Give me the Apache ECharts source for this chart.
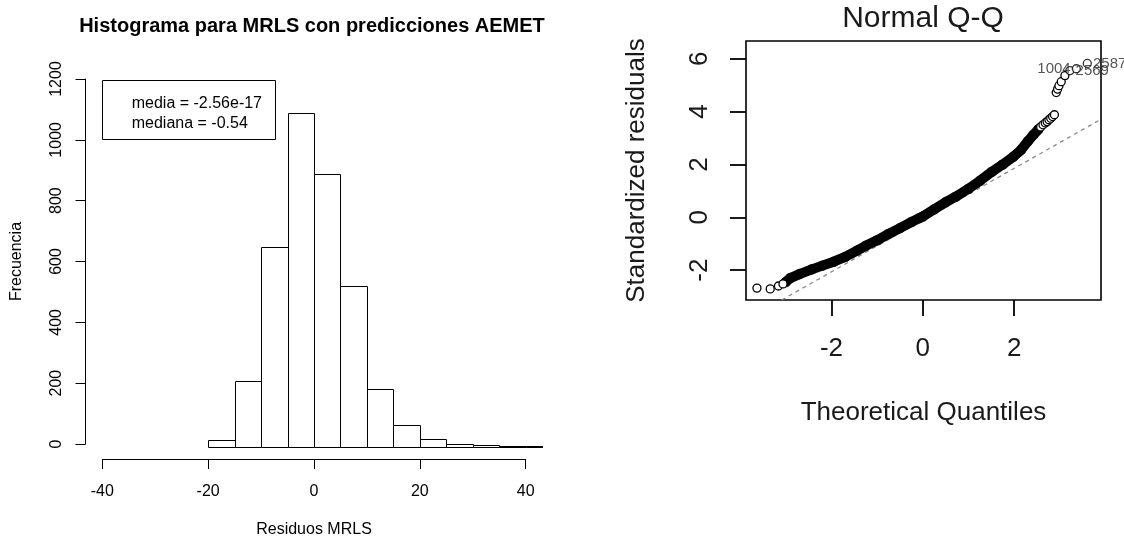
<!DOCTYPE html>
<html><head><meta charset="utf-8">
<script src="https://cdn.jsdelivr.net/npm/echarts@6/dist/echarts.min.js"></script>
<style>html,body{margin:0;padding:0;background:#fff}#c{width:1124px;height:543px}</style>
</head><body><div id="c"></div>
<script>
// ---------- Left panel: histogram ----------
const histTitle = 'Histograma para MRLS con predicciones AEMET';
const histXName = 'Residuos MRLS';
const histYName = 'Frecuencia';
const histBinEdges = [-20, -15, -10, -5, 0, 5, 10, 15, 20, 25, 30, 35, 40, 45];
const histCounts = [22, 215, 650, 1088, 890, 523, 187, 70, 25, 9, 4, 3, 3];
const histXTicks = [-40, -20, 0, 20, 40];
const histYTicks = [0, 200, 400, 600, 800, 1000, 1200];
const histLegendLines = ['media = -2.56e-17', 'mediana = -0.54'];

// ---------- Right panel: Normal Q-Q ----------
const qqTitle = 'Normal Q-Q';
const qqXName = 'Theoretical Quantiles';
const qqYName = 'Standardized residuals';
const qqXTicks = [-2, 0, 2];
const qqYTicks = [-2, 0, 2, 4, 6];
// dense band of points
const qqBandX = [-3.00, -2.90, -2.70, -2.43, -2.20, -1.95, -1.70, -1.45, -1.25, -1.00, -0.75, -0.50, -0.25, -0.07, 0.00, 0.25, 0.50, 0.72, 1.00, 1.25, 1.51, 1.75, 1.98, 2.15, 2.30, 2.42, 2.53];
const qqBandY = [-2.45, -2.30, -2.15, -1.97, -1.83, -1.68, -1.50, -1.27, -1.08, -0.87, -0.63, -0.41, -0.18, -0.03, 0.03, 0.30, 0.57, 0.78, 1.08, 1.38, 1.72, 2.00, 2.29, 2.55, 2.88, 3.12, 3.33];
// sparse points at the tails
const qqTailX = [-3.63, -3.34, -3.16, -3.06, 2.58, 2.63, 2.68, 2.72, 2.76, 2.80, 2.84, 2.88, 2.92, 2.95, 2.98, 3.03, 3.11];
const qqTailY = [-2.68, -2.71, -2.60, -2.52, 3.42, 3.50, 3.57, 3.62, 3.69, 3.75, 3.81, 3.88, 4.72, 4.85, 4.98, 5.13, 5.36];
// the three labelled largest residuals
const qqTopX = [3.22, 3.36, 3.60];
const qqTopY = [5.55, 5.62, 5.82];
const qqTopLabels = ['2569', '1004', '2587'];
const qqLineX = [-3.09, 3.90];
const qqLineY = [-3.13, 3.71];

const FONT = "'Liberation Sans', Arial, Helvetica, sans-serif";
const chart = echarts.init(document.getElementById('c'), null, { renderer: 'canvas' });

const histData = histCounts.map((c, i) => [histBinEdges[i], histBinEdges[i + 1], c]);
const bandData = qqBandX.map((x, i) => [x, qqBandY[i]]);
const tailData = qqTailX.map((x, i) => [x, qqTailY[i]]);
const lineData = qqLineX.map((x, i) => [x, qqLineY[i]]);
const labelPos = { '1004': 'left', '2569': 'right', '2587': 'right' };
const topData = qqTopX.map((x, i) => ({ value: [x, qqTopY[i]], name: qqTopLabels[i], label: { position: labelPos[qqTopLabels[i]] } }));

chart.setOption({
  animation: false,
  backgroundColor: '#fff',
  textStyle: { fontFamily: FONT },
  grid: [
    { left: 85.5, top: 64.2, width: 457, height: 397.2, show: false },
    { left: 102.3, top: 79, width: 423.4, height: 367.7, show: false },
    { left: 746, top: 41, width: 355, height: 259, show: true, borderColor: '#000', borderWidth: 1.6, backgroundColor: 'transparent' }
  ],
  xAxis: [
    { gridIndex: 0, type: 'value', min: -43.2, max: 43.2, show: false },
    { gridIndex: 1, type: 'value', min: histXTicks[0], max: histXTicks[histXTicks.length - 1], interval: 20,
      position: 'bottom', offset: 15,
      axisLine: { show: true, onZero: false, lineStyle: { color: '#000', width: 1 } },
      axisTick: { show: true, inside: false, length: 10, lineStyle: { color: '#000', width: 1 } },
      axisLabel: { color: '#000', fontSize: 16, margin: 25, fontFamily: FONT, formatter: v => String(v) },
      splitLine: { show: false },
      name: histXName, nameLocation: 'middle', nameGap: 63,
      nameTextStyle: { color: '#000', fontSize: 16, fontFamily: FONT } },
    { gridIndex: 2, type: 'value', min: -3.87, max: 3.90, position: 'bottom',
      axisLine: { show: false, onZero: false },
      axisTick: { show: true, inside: false, length: 16, customValues: qqXTicks, lineStyle: { color: '#000', width: 1.8 } },
      axisLabel: { color: '#1a1a1a', fontSize: 26, margin: 36, customValues: qqXTicks, fontFamily: FONT, formatter: v => String(v) },
      splitLine: { show: false },
      name: qqXName, nameLocation: 'middle', nameGap: 100,
      nameTextStyle: { color: '#1a1a1a', fontSize: 26, fontFamily: FONT } }
  ],
  yAxis: [
    { gridIndex: 0, type: 'value', min: -48, max: 1248, show: false },
    { gridIndex: 1, type: 'value', min: histYTicks[0], max: histYTicks[histYTicks.length - 1], interval: 200,
      position: 'left', offset: 16.8,
      axisLine: { show: true, onZero: false, lineStyle: { color: '#000', width: 1 } },
      axisTick: { show: true, inside: false, length: 10, lineStyle: { color: '#000', width: 1 } },
      axisLabel: { color: '#000', fontSize: 16, margin: 21, rotate: 90, fontFamily: FONT, formatter: v => String(v) },
      splitLine: { show: false },
      name: histYName, nameLocation: 'middle', nameGap: 61, nameRotate: 90,
      nameTextStyle: { color: '#000', fontSize: 16, fontFamily: FONT } },
    { gridIndex: 2, type: 'value', min: -3.13, max: 6.67, position: 'left',
      axisLine: { show: false, onZero: false },
      axisTick: { show: true, inside: false, length: 16, customValues: qqYTicks, lineStyle: { color: '#000', width: 1.8 } },
      axisLabel: { color: '#1a1a1a', fontSize: 26, margin: 33, rotate: 90, customValues: qqYTicks, fontFamily: FONT, formatter: v => String(v) },
      splitLine: { show: false },
      name: qqYName, nameLocation: 'middle', nameGap: 96, nameRotate: 90,
      nameTextStyle: { color: '#1a1a1a', fontSize: 26, fontFamily: FONT } }
  ],
  graphic: [
    { type: 'text', x: 312, y: 26, style: { text: histTitle, textAlign: 'center', textVerticalAlign: 'middle', fill: '#000', font: 'bold 20px ' + FONT } },
    { type: 'text', x: 923, y: 19, style: { text: qqTitle, textAlign: 'center', textVerticalAlign: 'middle', fill: '#1a1a1a', font: '30px ' + FONT } },
    { type: 'rect', shape: { x: 102.5, y: 80.5, width: 173, height: 59 }, style: { fill: '#fff', stroke: '#000', lineWidth: 1 }, z: 10 },
    { type: 'text', x: 131.7, y: 103.3, style: { text: histLegendLines[0], textVerticalAlign: 'middle', fill: '#000', font: '16px ' + FONT }, z: 11 },
    { type: 'text', x: 131.7, y: 123.3, style: { text: histLegendLines[1], textVerticalAlign: 'middle', fill: '#000', font: '16px ' + FONT }, z: 11 }
  ],
  series: [
    {
      type: 'custom', xAxisIndex: 0, yAxisIndex: 0, clip: true,
      data: histData,
      renderItem: function (params, api) {
        const p0 = api.coord([api.value(0), api.value(2)]);
        const p1 = api.coord([api.value(1), 0]);
        return {
          type: 'rect',
          shape: { x: Math.round(p0[0]) + 0.5, y: Math.round(p0[1]) + 0.5, width: Math.round(p1[0]) - Math.round(p0[0]), height: Math.round(p1[1]) - Math.round(p0[1]) },
          style: { fill: '#fff', stroke: '#000', lineWidth: 1 }
        };
      }
    },
    { type: 'line', xAxisIndex: 1, yAxisIndex: 1, data: [], silent: true },
    {
      type: 'line', xAxisIndex: 2, yAxisIndex: 2, data: lineData, showSymbol: false, clip: true,
      lineStyle: { color: '#8a8a8a', width: 1.3, type: [4, 4] }, z: 1
    },
    {
      type: 'line', xAxisIndex: 2, yAxisIndex: 2, data: bandData, showSymbol: false, clip: true,
      lineStyle: { color: '#000', width: 10, cap: 'round', join: 'round' }, z: 2
    },
    {
      type: 'scatter', xAxisIndex: 2, yAxisIndex: 2, data: bandData, clip: true,
      symbol: 'circle', symbolSize: 9,
      itemStyle: { color: 'transparent', borderColor: '#000', borderWidth: 1.5 }, z: 3
    },
    {
      type: 'scatter', xAxisIndex: 2, yAxisIndex: 2, data: tailData, clip: true,
      symbol: 'circle', symbolSize: 8,
      itemStyle: { color: '#fff', borderColor: '#000', borderWidth: 1.3, opacity: 1 }, z: 3
    },
    {
      type: 'scatter', xAxisIndex: 2, yAxisIndex: 2, data: topData, clip: false,
      symbol: 'circle', symbolSize: 8,
      itemStyle: { color: '#fff', borderColor: '#000', borderWidth: 1.3 },
      label: { show: true, formatter: p => p.name, color: '#2a2a2a', fontSize: 15, fontFamily: FONT, distance: 1 },
      z: 4
    }
  ]
});
</script>
</body></html>
